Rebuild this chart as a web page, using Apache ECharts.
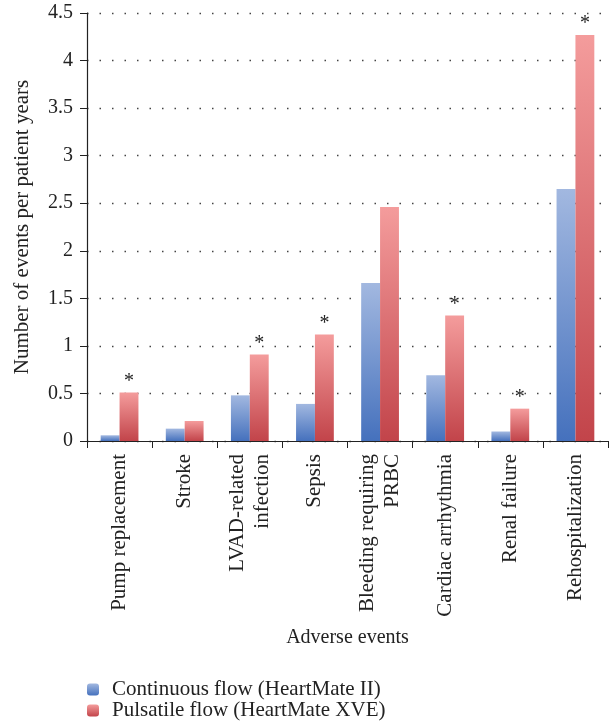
<!DOCTYPE html>
<html><head><meta charset="utf-8">
<script src="https://cdn.jsdelivr.net/npm/echarts@6/dist/echarts.min.js"></script>
<style>html,body{margin:0;padding:0;background:#fff}#c{width:613px;height:727px}</style>
</head><body><div id="c"></div>
<script>
const categories = ["Pump replacement","Stroke","LVAD-related\ninfection","Sepsis","Bleeding requiring\nPRBC","Cardiac arrhythmia","Renal failure","Rehospitalization"];
const continuousFlow = [0.06,0.13,0.48,0.39,1.66,0.69,0.10,2.65];
const pulsatileFlow = [0.51,0.21,0.91,1.12,2.46,1.32,0.34,4.27];
const significant = [true,false,true,true,false,true,true,true];
const yTicks = [0,0.5,1,1.5,2,2.5,3,3.5,4,4.5];

const font = "Liberation Serif";
const blueGrad = new echarts.graphic.LinearGradient(0,0,0,1,[{offset:0,color:'#a2b8e0'},{offset:1,color:'#4571bd'}]);
const redGrad = new echarts.graphic.LinearGradient(0,0,0,1,[{offset:0,color:'#f49c9c'},{offset:1,color:'#c2444a'}]);

const chart = echarts.init(document.getElementById('c'));
chart.setOption({
  animation:false,
  textStyle:{fontFamily:font,color:'#222'},
  grid:{left:87,right:5,top:13,bottom:286,containLabel:false},
  legend:{
    orient:'vertical',left:82,top:674,itemWidth:12,itemHeight:12,itemGap:0,
    textStyle:{fontFamily:font,fontSize:21,color:'#222',padding:[0,0,0,8]},
    data:['Continuous flow (HeartMate II)','Pulsatile flow (HeartMate XVE)']
  },
  xAxis:{
    type:'category',data:categories,
    name:'Adverse events',nameLocation:'middle',nameGap:187,
    nameTextStyle:{fontFamily:font,fontSize:20,color:'#222'},
    axisLine:{lineStyle:{color:'#222',width:1.2}},
    axisTick:{show:true,length:7,alignWithLabel:false,lineStyle:{color:'#222'}},
    axisLabel:{rotate:90,fontFamily:font,fontSize:21,color:'#222',margin:13,interval:0,lineHeight:25}
  },
  yAxis:{
    type:'value',min:0,max:4.5,interval:0.5,
    name:'Number of events per patient years',nameLocation:'middle',nameGap:54,
    nameTextStyle:{fontFamily:font,fontSize:21,color:'#222'},
    axisLine:{show:true,lineStyle:{color:'#222',width:1.2}},
    axisTick:{show:true,length:7,lineStyle:{color:'#222'}},
    axisLabel:{fontFamily:font,fontSize:20,color:'#222',margin:14,
      formatter:v=>yTicks.includes(v)?String(v):''},
    splitLine:{show:true,lineStyle:{color:'#444',type:[1.5,11],width:1.3}}
  },
  series:[
    {name:'Continuous flow (HeartMate II)',type:'bar',data:continuousFlow,
      barGap:'0%',barCategoryGap:'42%',itemStyle:{color:blueGrad}},
    {name:'Pulsatile flow (HeartMate XVE)',type:'bar',
      data:pulsatileFlow.map((v,i)=>({value:v,label:{show:significant[i]}})),
      itemStyle:{color:redGrad},
      label:{show:false,position:'top',formatter:'*',fontFamily:font,fontSize:20,color:'#222',distance:1}}
  ]
});
</script></body></html>
